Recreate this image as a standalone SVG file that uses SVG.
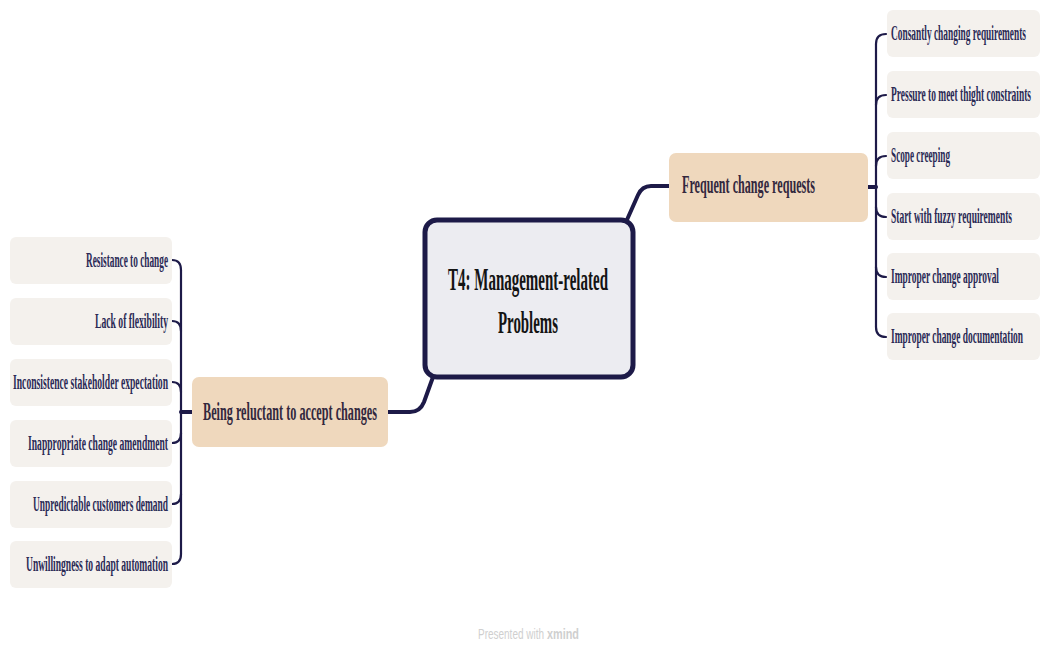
<svg xmlns="http://www.w3.org/2000/svg" width="1041" height="645" viewBox="0 0 1041 645">
<style>
.bg{fill:#ffffff}
.central{fill:#ececf1;stroke:#1d1a48;stroke-width:5}
.topic{fill:#efd8bd}
.sub{fill:#f4f1ed}
.ctext{font-family:"Liberation Serif",serif;font-weight:bold;font-size:32px;fill:#141414}
.ttext{font-family:"Liberation Serif",serif;font-weight:bold;font-size:25px;fill:#33283e}
.stext{font-family:"Liberation Serif",serif;font-weight:bold;font-size:20px;fill:#2b2a55}
.main{fill:none;stroke:#1d1a48;stroke-width:4;stroke-linecap:round;stroke-linejoin:round}
.br{fill:none;stroke:#1d1a48;stroke-width:2.2;stroke-linecap:round;stroke-linejoin:round}
.foot{font-family:"Liberation Sans",sans-serif;font-size:15px;fill:#cfcfcf}
</style>
<rect class="bg" x="0" y="0" width="1041" height="645"/>

<g id="connectors">
<path class="main" d="M626 222 L638 195 Q642 186 651 186 L669 186"/>
<path class="main" d="M433 377 L424 402 Q420 412 410 412 L388 412"/>
<path class="main" d="M868 187 L876 187"/>
<path class="main" d="M192 412 L181 412"/>
<path class="br" d="M876 44 L876 327"/>
<path class="br" d="M876 44 Q876 34 886 34"/>
<path class="br" d="M876 105 Q876 95 886 95"/>
<path class="br" d="M876 166 Q876 156 886 156"/>
<path class="br" d="M876 207 Q876 217 886 217"/>
<path class="br" d="M876 267 Q876 277 886 277"/>
<path class="br" d="M876 327 Q876 337 886 337"/>
<path class="br" d="M181 270 L181 554"/>
<path class="br" d="M181 270 Q181 260 172 260"/>
<path class="br" d="M181 331 Q181 321 172 321"/>
<path class="br" d="M181 392 Q181 382 172 382"/>
<path class="br" d="M181 433 Q181 443 172 443"/>
<path class="br" d="M181 494 Q181 504 172 504"/>
<path class="br" d="M181 554 Q181 564 172 564"/>
</g>

<g id="central">
<rect class="central" x="425" y="220" width="208" height="157" rx="12"/>
<text class="ctext" transform="translate(528 290) scale(0.45 1)" text-anchor="middle" textLength="355.6" lengthAdjust="spacingAndGlyphs">T4: Management-related</text>
<text class="ctext" transform="translate(528 333) scale(0.45 1)" text-anchor="middle" textLength="133.3" lengthAdjust="spacingAndGlyphs">Problems</text>
</g>

<g id="frequent">
<rect class="topic" x="669" y="153" width="199" height="69" rx="7"/>
<text class="ttext" transform="translate(682 193) scale(0.45 1)" textLength="295.6" lengthAdjust="spacingAndGlyphs">Frequent change requests</text>
</g>

<g id="reluctant">
<rect class="topic" x="192" y="377" width="196" height="70" rx="7"/>
<text class="ttext" transform="translate(203 420) scale(0.45 1)" textLength="386.7" lengthAdjust="spacingAndGlyphs">Being reluctant to accept changes</text>
</g>

<g id="r1"><rect class="sub" x="887" y="10" width="153" height="47" rx="6"/><text class="stext" transform="translate(891 40) scale(0.45 1)" textLength="300" lengthAdjust="spacingAndGlyphs">Consantly changing requirements</text></g>
<g id="r2"><rect class="sub" x="887" y="71" width="153" height="47" rx="6"/><text class="stext" transform="translate(891 101) scale(0.45 1)" textLength="311.1" lengthAdjust="spacingAndGlyphs">Pressure to meet thight constraints</text></g>
<g id="r3"><rect class="sub" x="887" y="132" width="153" height="47" rx="6"/><text class="stext" transform="translate(891 162) scale(0.45 1)" textLength="131.1" lengthAdjust="spacingAndGlyphs">Scope creeping</text></g>
<g id="r4"><rect class="sub" x="887" y="193" width="153" height="47" rx="6"/><text class="stext" transform="translate(891 223) scale(0.45 1)" textLength="268.9" lengthAdjust="spacingAndGlyphs">Start with fuzzy requirements</text></g>
<g id="r5"><rect class="sub" x="887" y="253" width="153" height="47" rx="6"/><text class="stext" transform="translate(891 283) scale(0.45 1)" textLength="240" lengthAdjust="spacingAndGlyphs">Improper change approval</text></g>
<g id="r6"><rect class="sub" x="887" y="313" width="153" height="47" rx="6"/><text class="stext" transform="translate(891 343) scale(0.45 1)" textLength="293.3" lengthAdjust="spacingAndGlyphs">Improper change documentation</text></g>

<g id="l1"><rect class="sub" x="10" y="237" width="162" height="47" rx="6"/><text class="stext" transform="translate(168 267) scale(0.45 1)" text-anchor="end" textLength="182.2" lengthAdjust="spacingAndGlyphs">Resistance to change</text></g>
<g id="l2"><rect class="sub" x="10" y="298" width="162" height="47" rx="6"/><text class="stext" transform="translate(168 328) scale(0.45 1)" text-anchor="end" textLength="162.2" lengthAdjust="spacingAndGlyphs">Lack of flexibility</text></g>
<g id="l3"><rect class="sub" x="10" y="359" width="162" height="47" rx="6"/><text class="stext" transform="translate(168 389) scale(0.45 1)" text-anchor="end" textLength="344.4" lengthAdjust="spacingAndGlyphs">Inconsistence stakeholder expectation</text></g>
<g id="l4"><rect class="sub" x="10" y="420" width="162" height="47" rx="6"/><text class="stext" transform="translate(168 450) scale(0.45 1)" text-anchor="end" textLength="311.1" lengthAdjust="spacingAndGlyphs">Inappropriate change amendment</text></g>
<g id="l5"><rect class="sub" x="10" y="481" width="162" height="47" rx="6"/><text class="stext" transform="translate(168 511) scale(0.45 1)" text-anchor="end" textLength="300" lengthAdjust="spacingAndGlyphs">Unpredictable customers demand</text></g>
<g id="l6"><rect class="sub" x="10" y="541" width="162" height="47" rx="6"/><text class="stext" transform="translate(168 571) scale(0.45 1)" text-anchor="end" textLength="315.6" lengthAdjust="spacingAndGlyphs">Unwillingness to adapt  automation</text></g>

<text class="foot" transform="translate(478 639) scale(0.7 1)" textLength="94.3" lengthAdjust="spacingAndGlyphs">Presented with</text>
<text class="foot" transform="translate(547 639) scale(0.7 1)" font-weight="bold" textLength="45.7" lengthAdjust="spacingAndGlyphs">xmind</text>
</svg>
